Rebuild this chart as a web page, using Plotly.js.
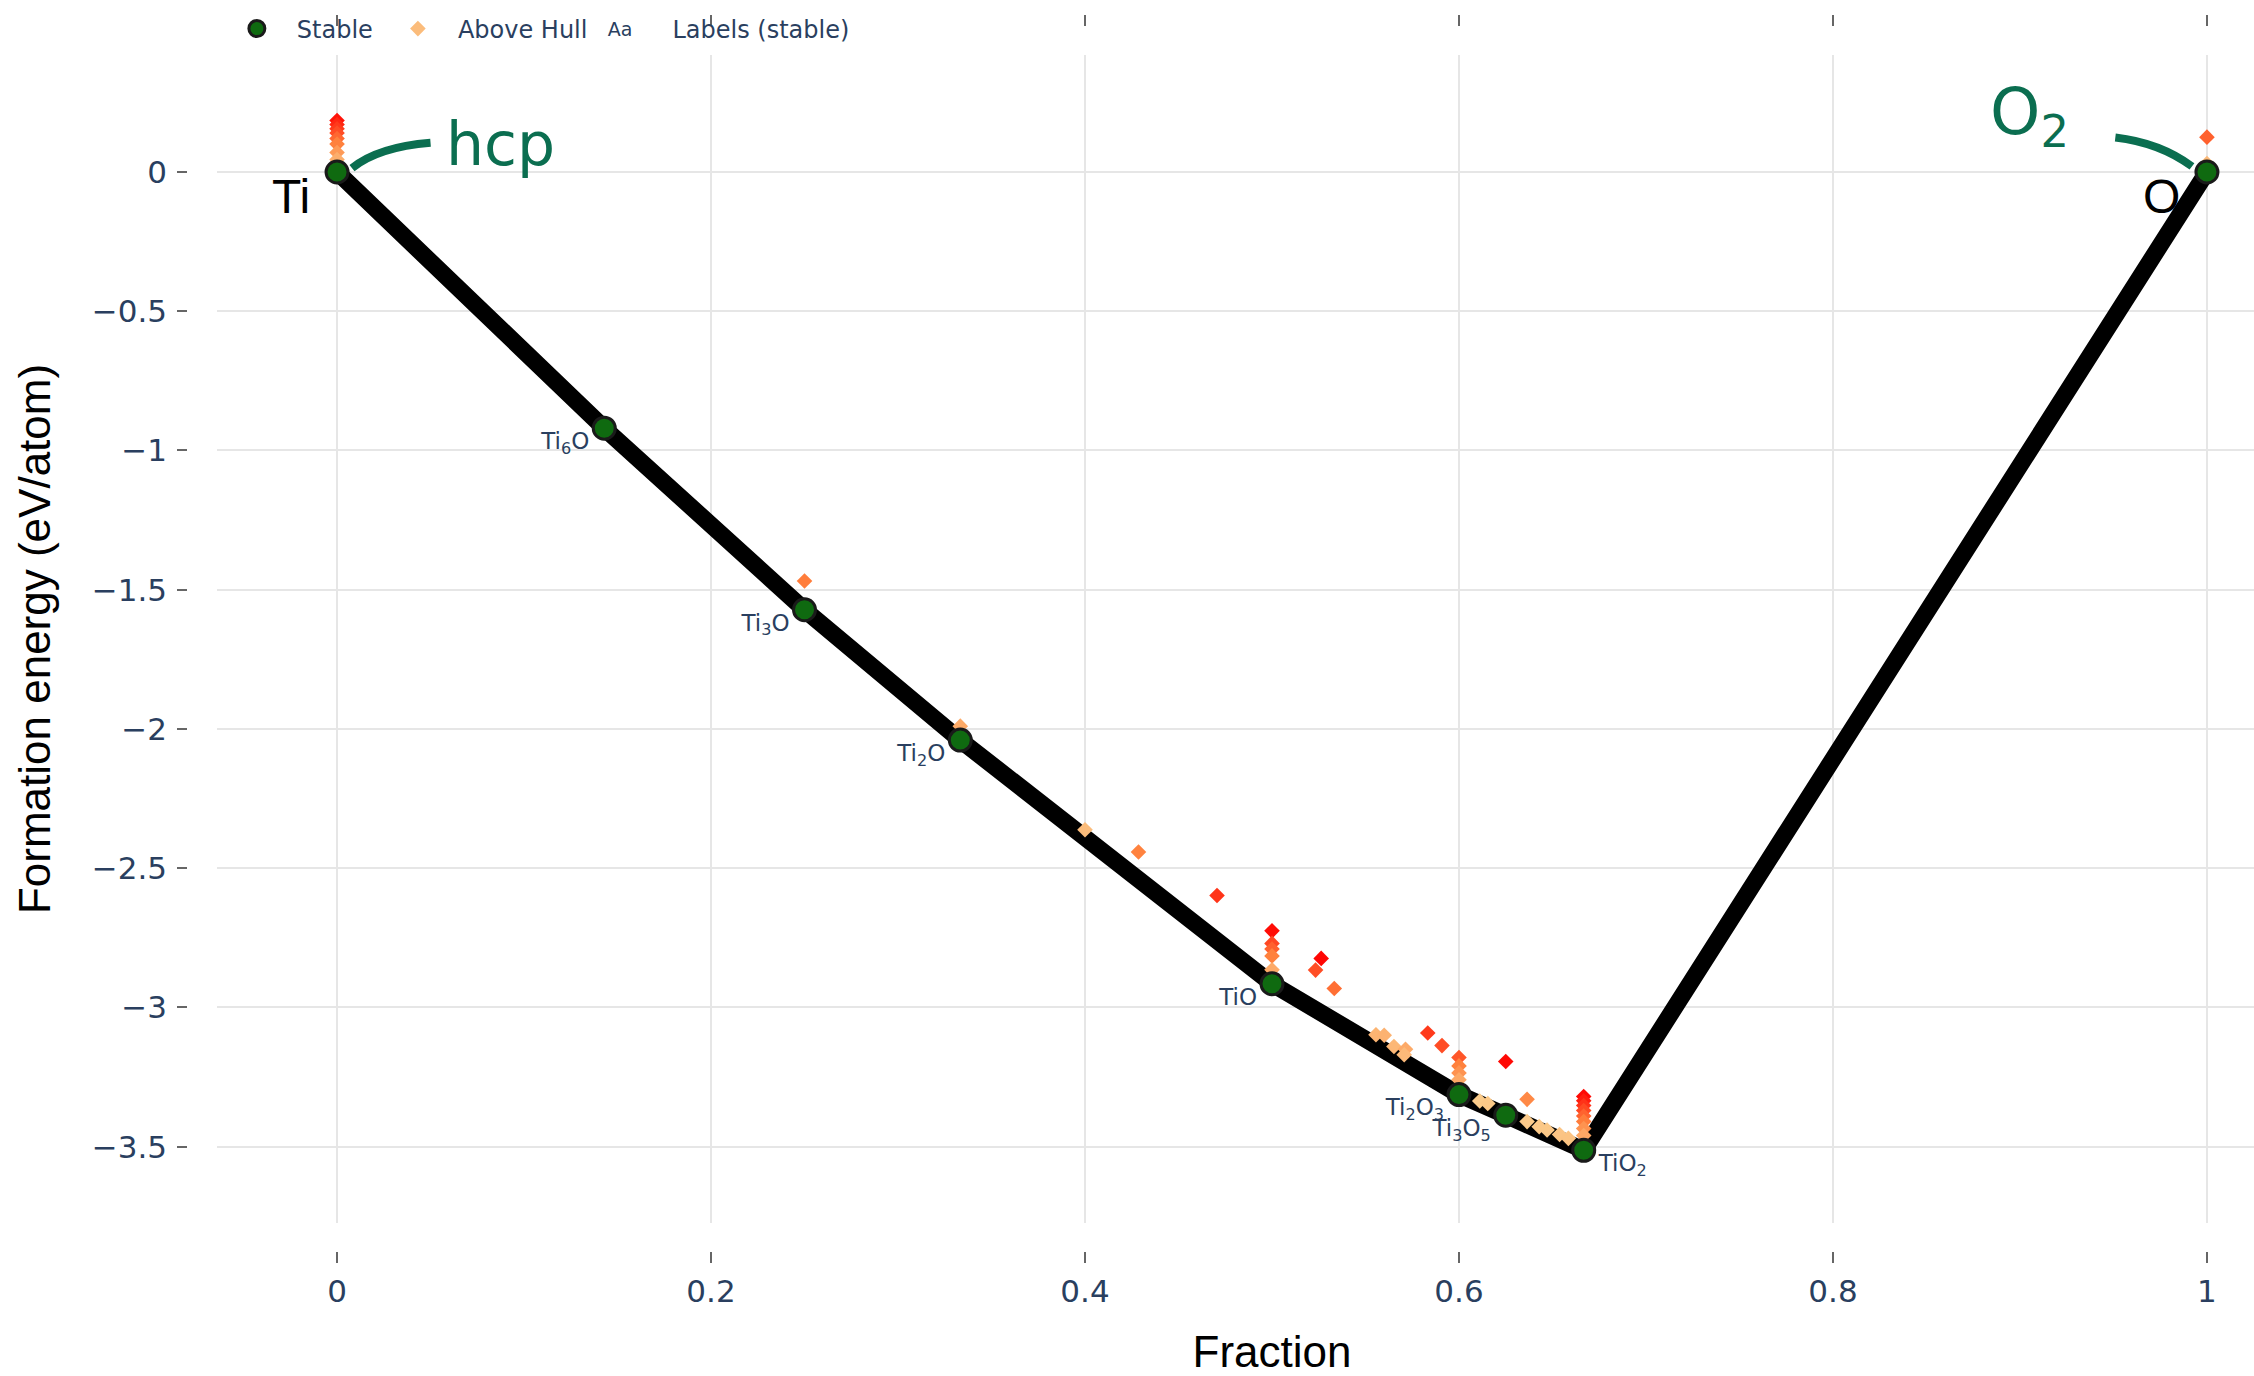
<!DOCTYPE html>
<html><head><meta charset="utf-8">
<script src="https://cdn.plot.ly/plotly-3.0.1.min.js"></script>
<style>html,body{margin:0;padding:0;overflow:hidden;background:#fff}#chart{width:2400px;height:1376px}</style>
</head><body><div id="chart"></div>
<script>
// ---- data ----
const stableNames = ['Ti','Ti<sub>6</sub>O','Ti<sub>3</sub>O','Ti<sub>2</sub>O','TiO','Ti<sub>2</sub>O<sub>3</sub>','Ti<sub>3</sub>O<sub>5</sub>','TiO<sub>2</sub>','O'];
const stableX = [0, 0.1429, 0.25, 0.3333, 0.5, 0.6, 0.625, 0.6667, 1];
const stableY = [0, -0.92, -1.572, -2.04, -2.915, -3.313, -3.387, -3.513, 0];

const unstableX = [0.4, 0, 0, 0, 0, 0, 0, 0, 0,
  1, 1,
  0.25, 0.3333, 0.4286, 0.4706,
  0.5, 0.5, 0.5, 0.5, 0.5,
  0.5263, 0.5233, 0.5333,
  0.5556, 0.56, 0.5652, 0.5714, 0.5707,
  0.5833, 0.5909,
  0.6, 0.6, 0.6, 0.6,
  0.625, 0.6364,
  0.6111, 0.6154, 0.6364, 0.6429, 0.6471, 0.6538, 0.6585,
  0.6667, 0.6667, 0.6667, 0.6667, 0.6667, 0.6667, 0.6667, 0.6667];
const unstableY = [-2.362, 0.185, 0.17, 0.155, 0.14, 0.12, 0.10, 0.07, 0.045,
  0.125, 0.03,
  -1.469, -1.99, -2.442, -2.598,
  -2.725, -2.77, -2.79, -2.815, -2.865,
  -2.824, -2.866, -2.932,
  -3.098, -3.10, -3.14, -3.15, -3.17,
  -3.092, -3.137,
  -3.18, -3.21, -3.235, -3.26,
  -3.194, -3.33,
  -3.336, -3.345, -3.41, -3.428, -3.44, -3.456, -3.47,
  -3.32, -3.335, -3.352, -3.37, -3.39, -3.41, -3.435, -3.46];
const unstableEhull = [0.028, 0.185, 0.17, 0.155, 0.14, 0.12, 0.10, 0.07, 0.045,
  0.125, 0.03,
  0.103, 0.05, 0.099, 0.16,
  0.19, 0.145, 0.125, 0.10, 0.05,
  0.195, 0.14, 0.114,
  0.038, 0.04, 0.034, 0.05, 0.03,
  0.155, 0.14,
  0.133, 0.10, 0.078, 0.053,
  0.193, 0.09,
  0.01, 0.014, 0.011, 0.013, 0.014, 0.018, 0.02,
  0.193, 0.178, 0.161, 0.143, 0.123, 0.103, 0.078, 0.053];

const xTickVals = [0, 0.2, 0.4, 0.6, 0.8, 1];
const yTickVals = [0, -0.5, -1, -1.5, -2, -2.5, -3, -3.5];

// ---- derived label positions ----
const minIdx = stableY.indexOf(Math.min(...stableY));
const lblX = [], lblY = [], lblT = [], lblPos = [];
for (let i = 0; i < stableX.length; i++) {
  if (stableX[i] === 0 || stableX[i] === 1) continue;
  const right = stableX[i] >= stableX[minIdx];
  lblX.push(stableX[i] + (right ? 0.008 : -0.008));
  lblY.push(stableY[i] - 0.013);
  lblT.push(stableNames[i]);
  lblPos.push(right ? 'bottom right' : 'bottom left');
}

const titleFont = {family: 'Liberation Sans', size: 44, color: '#000'};
const tickFont = {family: 'DejaVu Sans', size: 31, color: '#2a3f5f'};
const xRange = [-0.0642, 1.0642];

const traces = [
  {x: stableX, y: stableY, mode: 'lines', line: {color: '#000', width: 17},
   showlegend: false, hoverinfo: 'skip'},
  {x: unstableX, y: unstableY, mode: 'markers', name: 'Above Hull', legendrank: 2,
   marker: {symbol: 'diamond', size: 12, color: unstableEhull, cmin: 0, cmax: 0.2,
     colorscale: [[0, '#fad393'], [0.5, '#ff813d'], [1, '#ff0000']], line: {width: 0}}},
  {x: stableX, y: stableY, mode: 'markers', name: 'Stable', legendrank: 1,
   marker: {color: '#0f6a10', size: 22, line: {color: '#1a1a1a', width: 3}}},
  {x: lblX, y: lblY, mode: 'text', text: lblT, textposition: lblPos, name: 'Labels (stable)',
   legendrank: 3, hoverinfo: 'skip', textfont: {family: 'DejaVu Sans', size: 23, color: '#2a3f5f'}},
  {x: [0.5], y: [null], xaxis: 'x2', yaxis: 'y', mode: 'markers', showlegend: false, hoverinfo: 'skip'}
];

const elemAnn = [0, stableX.length - 1].map(i => ({
  x: stableX[i], y: stableY[i], xref: 'x', yref: 'y', text: stableNames[i], showarrow: false,
  xanchor: 'right', yanchor: 'top', xshift: -25, yshift: 4,
  font: {family: 'Liberation Sans', size: 48, color: '#000'}
}));

const hand = '#0b6e50';
const handAnn = [
  {x: 0.057, y: 0.1, xref: 'x', yref: 'y', text: 'hcp', showarrow: false, xanchor: 'left', yanchor: 'middle',
   font: {family: 'DejaVu Sans', size: 60, color: hand}},
  {x: 0.905, y: 0.2, xref: 'x', yref: 'y', text: 'O<sub>2</sub>', showarrow: false, xanchor: 'center', yanchor: 'middle',
   font: {family: 'DejaVu Sans', size: 64, color: hand}}
];

const layout = {
  width: 2400, height: 1376,
  margin: {l: 176, r: 73, t: 14, b: 113, autoexpand: false},
  paper_bgcolor: '#fff', plot_bgcolor: '#fff',
  font: {family: 'DejaVu Sans', size: 24, color: '#2a3f5f'},
  showlegend: true,
  legend: {orientation: 'h', x: 0.019, xanchor: 'left', y: 0.988, yanchor: 'middle',
    font: {family: 'DejaVu Sans', size: 24, color: '#2a3f5f'}, itemwidth: 70, bgcolor: 'rgba(0,0,0,0)'},
  xaxis: {domain: [0.01906, 1], anchor: 'free', position: 0, range: xRange, tickvals: xTickVals,
    ticks: 'inside', ticklen: 11, tickwidth: 2, tickcolor: '#666', showline: false, zeroline: false,
    showgrid: true, gridcolor: '#e6e6e6', gridwidth: 2, tickfont: tickFont, ticklabelstandoff: 7,
    title: {text: 'Fraction', font: titleFont, standoff: 33}},
  xaxis2: {overlaying: 'x', anchor: 'free', position: 1, side: 'top', range: xRange, tickvals: xTickVals,
    ticks: 'inside', ticklen: 11, tickwidth: 2, tickcolor: '#666', showticklabels: false,
    showgrid: false, zeroline: false, showline: false},
  yaxis: {domain: [0.03203, 0.96717], anchor: 'free', position: 0, range: [-3.774, 0.42], tickvals: yTickVals,
    ticks: 'inside', ticklen: 10, tickwidth: 2, tickcolor: '#666', showline: false, zeroline: false,
    showgrid: true, gridcolor: '#e6e6e6', gridwidth: 2, tickfont: tickFont, ticklabelstandoff: 9,
    title: {text: 'Formation energy (eV/atom)', font: titleFont, standoff: 26}},
  annotations: elemAnn.concat(handAnn),
  shapes: [
    {type: 'path', xref: 'x', yref: 'y', path: 'M 0.008,0.014 Q 0.022,0.09 0.05,0.105',
     line: {color: hand, width: 8}},
    {type: 'path', xref: 'x', yref: 'y', path: 'M 0.951,0.124 Q 0.975,0.105 0.992,0.02',
     line: {color: hand, width: 8}}
  ]
};

Plotly.newPlot('chart', traces, layout, {displayModeBar: false}).then(gd => {
  // enlarge the legend's "Aa" sample glyph of the text-only trace
  gd.querySelectorAll('.legend .legendpoints text').forEach(t => {
    t.style.fontSize = '19px';
  });
});
</script>
</body></html>
